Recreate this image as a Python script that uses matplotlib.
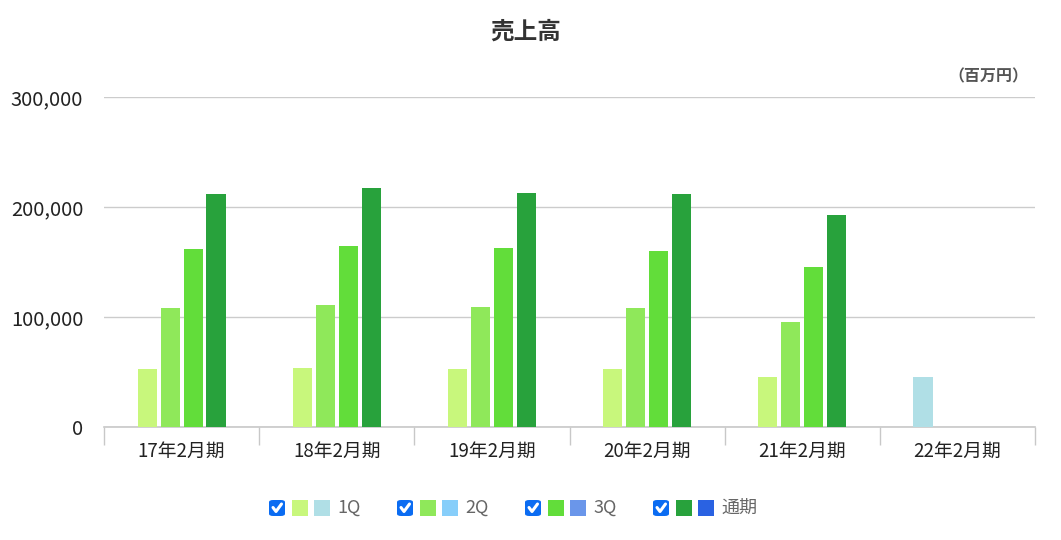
import numpy as np
from matplotlib import pyplot as plt
from matplotlib.patches import Rectangle, FancyBboxPatch
from matplotlib.lines import Line2D

plt.rcParams['font.family'] = ['Noto Sans CJK JP', 'DejaVu Sans']

# data (百万円)
categories = ["17年2月期", "18年2月期", "19年2月期", "20年2月期", "21年2月期", "22年2月期"]
seriesNames = ["1Q", "2Q", "3Q", "通期"]
q1 = [52400, 53900, 53100, 53100, 45700, 45700]
q2 = [108500, 110900, 109100, 107900, 95700, np.nan]
q3 = [161500, 164200, 162500, 159800, 145200, np.nan]
full = [211800, 217300, 213100, 211600, 192800, np.nan]
yTicks = [0, 100000, 200000, 300000]

greenColors = ["#c8f77c", "#8fe85a", "#62dd3a", "#28a23c"]
blueColors = ["#b0dfe6", "#87cefa", "#6a96ea", "#2a62e2"]
currentYear = 5  # last period uses the blue palette

fig = plt.figure(figsize=(10.61, 5.40), dpi=100)
ax = fig.add_axes([104 / 1061, 113 / 540, 931 / 1061, 330 / 540])

barWidth = 0.123
step = 0.148
x = np.arange(len(categories))
allSeries = [q1, q2, q3, full]
for i, values in enumerate(allSeries):
    colors = [blueColors[i] if j == currentYear else greenColors[i] for j in range(len(categories))]
    ax.bar(x + (i - 1.5) * step, values, width=barWidth, color=colors, zorder=3)

ax.set_xlim(-0.5, len(categories) - 0.5)
ax.set_ylim(0, 300000)
ax.set_yticks(yTicks)
ax.set_yticklabels([f"{v:,}" for v in yTicks], fontsize=14.5, color="#222222")
ax.set_xticks(x)
ax.set_xticklabels(categories, fontsize=13.5, color="#222222")
ax.set_xticks(np.arange(-0.5, len(categories)), minor=True)
ax.tick_params(axis="x", which="major", length=0, pad=10)
ax.tick_params(axis="x", which="minor", length=13, width=1, color="#c8c8c8")
ax.tick_params(axis="y", length=0, pad=15)
ax.grid(axis="y", color="#cccccc", linewidth=1, zorder=0)
for side in ["top", "right", "left"]:
    ax.spines[side].set_visible(False)
ax.spines["bottom"].set_color("#c8c8c8")
ax.spines["bottom"].set_linewidth(1.2)

fig.text(526 / 1061, 1 - 32 / 540, "売上高", ha="center", va="center",
         fontsize=17, fontweight="bold", color="#333333")
fig.text(1028 / 1061, 1 - 76 / 540, "（百万円）", ha="right", va="center",
         fontsize=11.5, fontweight="bold", color="#555555")

# legend: checkbox + green swatch + blue swatch + label
W, H = 1061, 540
legendY = 508
for k, name in enumerate(seriesNames):
    x0 = 268 + k * 128
    box = FancyBboxPatch(((x0 + 1) / W, (H - legendY - 8) / H), 16 / W, 16 / H,
                         boxstyle="round,pad=0,rounding_size=0.004",
                         transform=fig.transFigure, facecolor="#0b6cf2", edgecolor="none")
    fig.patches.append(box)
    fig.lines.append(Line2D([(x0 + 5) / W, (x0 + 8) / W, (x0 + 13.5) / W],
                            [(H - legendY + 0.5) / H, (H - legendY - 3.5) / H, (H - legendY + 4) / H],
                            transform=fig.transFigure, color="white", linewidth=2.2,
                            solid_capstyle="round", solid_joinstyle="round"))
    fig.patches.append(Rectangle(((x0 + 24) / W, (H - legendY - 8) / H), 16 / W, 16 / H,
                                 transform=fig.transFigure, facecolor=greenColors[k], edgecolor="none"))
    fig.patches.append(Rectangle(((x0 + 46) / W, (H - legendY - 8) / H), 16 / W, 16 / H,
                                 transform=fig.transFigure, facecolor=blueColors[k], edgecolor="none"))
    fig.text((x0 + 69) / W, (H - legendY) / H, name, ha="left", va="center",
             fontsize=13, color="#666666")

fig.savefig("out.png", dpi=100)
